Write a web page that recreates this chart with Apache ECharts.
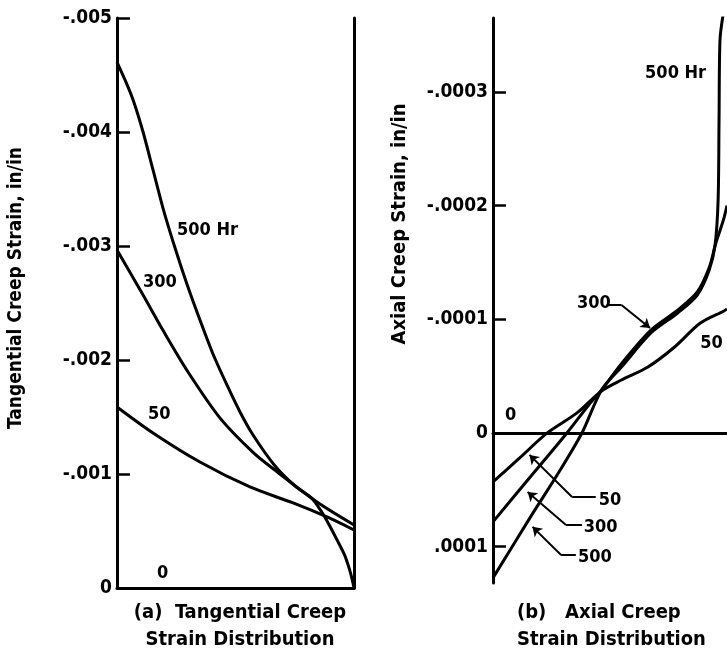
<!DOCTYPE html>
<html>
<head>
<meta charset="utf-8">
<script src="https://cdn.jsdelivr.net/npm/echarts@6/dist/echarts.min.js"></script>
<style>
  html, body { margin: 0; padding: 0; background: #fff; }
  #chart { width: 727px; height: 655px; }
</style>
</head>
<body>
<div id="chart"></div>
<script>
// (a) tangential creep strain, x = normalised position across the section
const tanX500 = [0, 0.034, 0.068, 0.11, 0.152, 0.194, 0.245, 0.295, 0.35, 0.405, 0.464, 0.519, 0.574, 0.667, 0.751, 0.82, 0.85, 0.875, 0.9, 0.93, 0.96, 0.98, 0.993, 1];
const tan500 = [-0.004614, -0.004456, -0.004281, -0.004, -0.003667, -0.003333, -0.002982, -0.002667, -0.002351, -0.002053, -0.001781, -0.001544, -0.001342, -0.00107, -0.000895, -0.00079, -0.00071, -0.00063, -0.000535, -0.000415, -0.00029, -0.00017, -0.00007, 0];
const tanX300 = [0, 0.11, 0.194, 0.295, 0.435, 0.574, 0.675, 0.844, 1];
const tan300 = [-0.002965, -0.00257, -0.00226, -0.00191, -0.00149, -0.00119, -0.00102, -0.000754, -0.000553];
const tanX50 = [0, 0.152, 0.35, 0.561, 0.743, 0.886, 1];
const tan50 = [-0.001588, -0.00136, -0.001105, -0.000886, -0.000746, -0.000623, -0.000509];
const tanTicks = [-0.005, -0.004, -0.003, -0.002, -0.001, 0];
const tanLabelText = ['500 Hr', '300', '50', '0'];
const tanLabelX = [0.253, 0.11, 0.131, 0.169];
const tanLabelY = [-0.00314, -0.00268, -0.00152, -0.00013];

// (b) axial creep strain
const axX500 = [0, 0.169, 0.274, 0.38, 0.464, 0.549, 0.675, 0.789, 0.873, 0.924, 0.949, 0.962, 0.966, 0.97, 0.983];
const ax500 = [1.275e-4, 0.71e-4, 0.37e-4, 0, -0.378e-4, -0.58e-4, -0.879e-4, -1.055e-4, -1.213e-4, -1.433e-4, -1.653e-4, -2.048e-4, -2.752e-4, -3.455e-4, -3.675e-4];
const axX300 = [0, 0.152, 0.316, 0.409, 0.464, 0.549, 0.675, 0.789, 0.873, 0.924, 0.951, 0.97, 0.987, 1];
const ax300 = [0.782e-4, 0.405e-4, 0, -0.246e-4, -0.378e-4, -0.61e-4, -0.905e-4, -1.08e-4, -1.24e-4, -1.455e-4, -1.66e-4, -1.78e-4, -1.89e-4, -2.0e-4];
const axX50 = [0, 0.114, 0.232, 0.359, 0.464, 0.549, 0.662, 0.776, 0.886, 0.987, 1];
const ax50 = [0.431e-4, 0.22e-4, 0, -0.176e-4, -0.369e-4, -0.466e-4, -0.58e-4, -0.756e-4, -0.967e-4, -1.073e-4, -1.09e-4];
const axTicks = [-0.0003, -0.0002, -0.0001, 0, 0.0001];
const axLabelText = ['500 Hr', '300', '50', '0', '50', '300', '500'];
const axLabelX = [0.65, 0.359, 0.886, 0.051, 0.452, 0.388, 0.363];
const axLabelY = [-3.165e-4, -1.14e-4, -0.79e-4, -0.158e-4, 0.59e-4, 0.83e-4, 1.09e-4];
// leader lines: [textEnd, elbow, tip]
const axLeaders = [
  [[0.439, 0.563e-4], [0.338, 0.563e-4], [0.156, 0.193e-4]],
  [[0.38, 0.809e-4], [0.312, 0.809e-4], [0.148, 0.519e-4]],
  [[0.354, 1.073e-4], [0.291, 1.073e-4], [0.169, 0.826e-4]],
  [[0.485, -1.125e-4], [0.549, -1.125e-4], [0.671, -0.923e-4]]
];

const FONT = '"DejaVu Sans Condensed", "Liberation Sans Narrow", "Noto Sans", sans-serif';
const INK = '#000';

const pairs = (xs, ys) => xs.map((x, i) => [x, ys[i]]);

function fmt(digits) {
  return v => {
    if (Math.abs(v) < 1e-12) return '0';
    return (v < 0 ? '-' : '') + Math.abs(v).toFixed(digits).replace(/^0/, '');
  };
}

function curve(name, data, gi) {
  return {
    name: name,
    type: 'line',
    xAxisIndex: gi,
    yAxisIndex: gi === 0 ? 0 : 2,
    data: data,
    showSymbol: false,
    smooth: 0.3,
    silent: true,
    lineStyle: { color: INK, width: 3 }
  };
}

function labels(texts, xs, ys, gi) {
  return {
    type: 'scatter',
    xAxisIndex: gi,
    yAxisIndex: gi === 0 ? 0 : 2,
    symbolSize: 0,
    silent: true,
    itemStyle: { opacity: 1 },
    data: texts.map((t, i) => ({ name: t, value: [xs[i], ys[i]] })),
    label: {
      show: true,
      position: 'right',
      distance: 0,
      formatter: p => p.name,
      color: INK,
      opacity: 1,
      fontFamily: FONT,
      fontWeight: 'bold',
      fontSize: 18
    }
  };
}

const leaderHoriz = axLeaders.map(l => ({ coords: [l[0], l[1]] }));
const leaderDiag = axLeaders.map(l => ({ coords: [l[1], l[2]] }));

const tickStyle = { inside: true, length: 13, lineStyle: { color: INK, width: 2.5 } };
const lineStyleAxis = { color: INK, width: 3 };
const tickLabelStyle = { color: INK, fontFamily: FONT, fontWeight: 'bold', fontSize: 19, margin: 5 };

const chart = echarts.init(document.getElementById('chart'));

chart.setOption({
  backgroundColor: '#fff',
  animation: false,
  grid: [
    { left: 117, top: 18, width: 237, height: 570 },
    { left: 493, top: 18, width: 237, height: 565 }
  ],
  xAxis: [
    {
      gridIndex: 0, type: 'value', min: 0, max: 1, position: 'bottom',
      axisLine: { onZero: false, lineStyle: lineStyleAxis },
      axisTick: { show: false }, axisLabel: { show: false }, splitLine: { show: false }
    },
    {
      gridIndex: 1, type: 'value', min: 0, max: 1,
      axisLine: { onZero: true, lineStyle: lineStyleAxis },
      axisTick: { show: false }, axisLabel: { show: false }, splitLine: { show: false }
    }
  ],
  yAxis: [
    {
      gridIndex: 0, type: 'value', min: -0.005, max: 0, inverse: true,
      axisLine: { show: true, onZero: false, lineStyle: lineStyleAxis },
      axisTick: Object.assign({ customValues: tanTicks }, tickStyle),
      axisLabel: Object.assign({ customValues: tanTicks, formatter: fmt(3) }, tickLabelStyle),
      splitLine: { show: false }
    },
    {
      gridIndex: 0, type: 'value', min: -0.005, max: 0, inverse: true, position: 'right',
      axisLine: { show: true, onZero: false, lineStyle: lineStyleAxis },
      axisTick: { show: false }, axisLabel: { show: false }, splitLine: { show: false }
    },
    {
      gridIndex: 1, type: 'value', min: -3.65e-4, max: 1.32e-4, inverse: true,
      axisLine: { show: true, onZero: false, lineStyle: lineStyleAxis },
      axisTick: Object.assign({ customValues: axTicks }, tickStyle),
      axisLabel: Object.assign({ customValues: axTicks, formatter: fmt(4) }, tickLabelStyle),
      splitLine: { show: false }
    }
  ],
  series: [
    curve('500', pairs(tanX500, tan500), 0),
    curve('300', pairs(tanX300, tan300), 0),
    curve('50', pairs(tanX50, tan50), 0),
    labels(tanLabelText, tanLabelX, tanLabelY, 0),
    curve('500', pairs(axX500, ax500), 1),
    curve('300', pairs(axX300, ax300), 1),
    curve('50', pairs(axX50, ax50), 1),
    labels(axLabelText, axLabelX, axLabelY, 1),
    {
      type: 'lines', coordinateSystem: 'cartesian2d', xAxisIndex: 1, yAxisIndex: 2,
      silent: true, symbol: ['none', 'none'],
      lineStyle: { color: INK, width: 2, opacity: 1 },
      data: leaderHoriz
    },
    {
      type: 'lines', coordinateSystem: 'cartesian2d', xAxisIndex: 1, yAxisIndex: 2,
      silent: true, symbol: ['none', 'arrow'], symbolSize: 9,
      lineStyle: { color: INK, width: 2, opacity: 1 },
      data: leaderDiag
    }
  ],
  graphic: [
    {
      type: 'text', x: 16, y: 288, rotation: Math.PI / 2,
      style: { text: 'Tangential Creep Strain, in/in', align: 'center', verticalAlign: 'middle',
        font: 'bold 19px ' + FONT, fill: INK }
    },
    {
      type: 'text', x: 400, y: 224, rotation: Math.PI / 2,
      style: { text: 'Axial Creep Strain, in/in', align: 'center', verticalAlign: 'middle',
        font: 'bold 20px ' + FONT, fill: INK }
    },
    {
      type: 'text', x: 240, y: 613,
      style: { text: '(a)  Tangential Creep', align: 'center', verticalAlign: 'middle',
        font: 'bold 20px ' + FONT, fill: INK }
    },
    {
      type: 'text', x: 240, y: 640,
      style: { text: 'Strain Distribution', align: 'center', verticalAlign: 'middle',
        font: 'bold 20px ' + FONT, fill: INK }
    },
    {
      type: 'text', x: 517, y: 613,
      style: { text: '(b)   Axial Creep', align: 'left', verticalAlign: 'middle',
        font: 'bold 20px ' + FONT, fill: INK }
    },
    {
      type: 'text', x: 517, y: 640,
      style: { text: 'Strain Distribution', align: 'left', verticalAlign: 'middle',
        font: 'bold 20px ' + FONT, fill: INK }
    }
  ]
});
</script>
</body>
</html>
